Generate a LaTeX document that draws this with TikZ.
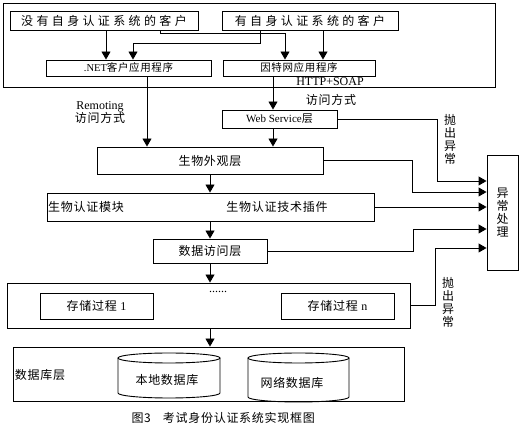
\documentclass[tikz,border=0pt]{standalone}
\usepackage{fontspec}
\setmainfont{Noto Sans CJK SC}
\newfontfamily\tnr{Liberation Serif}
\usetikzlibrary{arrows.meta}

\begin{document}
\begin{tikzpicture}[x=1pt,y=-1pt,
  box/.style={draw, line width=0.9pt, inner sep=0pt},
  arr/.style={-{Triangle[width=9pt,length=8pt]}, line width=0.9pt},
  every node/.style={font=\fontsize{12}{13}\selectfont\addfontfeatures{LetterSpace=6}}]

\useasboundingbox (0,0) rectangle (520,435);

% Client frame
\draw[line width=0.9pt] (3,3) rectangle (495,87);

% Clients and applications
\node[box, minimum width=188, minimum height=19] (noauth) at (104,20.5)
  {\addfontfeatures{LetterSpace=28}没有自身认证系统的客户};
\node[box, minimum width=176, minimum height=19] (hasauth) at (310,20.5)
  {\addfontfeatures{LetterSpace=28}有自身认证系统的客户};
\node[box, minimum width=165, minimum height=16] (netapp) at (128.5,68)
  {\fontsize{10.5}{12}\selectfont{\tnr .NET}客户应用程序};
\node[box, minimum width=152, minimum height=16] (webapp) at (299,68)
  {\fontsize{10.5}{12}\selectfont 因特网应用程序};

% Layers
\node[box, minimum width=115, minimum height=18] (ws) at (279.5,119)
  {\fontsize{11}{12}\selectfont{\tnr Web Service}层};
\node[box, minimum width=226, minimum height=27] (face) at (210,160.5) {生物外观层};
\node[box, minimum width=327, minimum height=28] (auth) at (210.5,207) {};
\node (authmod) at (86,207) {生物认证模块};
\node (plugin) at (277,207) {生物认证技术插件};
\node[box, minimum width=114, minimum height=24] (dal) at (210,251) {数据访问层};

% Stored procedures
\node[box, minimum width=403, minimum height=45] (sp) at (208.5,305.5) {};
\node[box, minimum width=113, minimum height=26] (sp1) at (96.5,306) {存储过程 {\tnr 1}};
\node[box, minimum width=113, minimum height=26] (spn) at (337.5,306) {存储过程 {\tnr n}};
\node (dots) at (218,292) {\tnr ......};

% Database layer
\node[box, minimum width=391, minimum height=54] (db) at (208.5,374) {};
\node (dblabel) at (40,375) {数据库层};
\draw[line width=0.9pt] (118,358) -- (118,393) arc[start angle=180, end angle=0, x radius=51, y radius=5] -- (220,358);
\draw[line width=0.9pt] (169,358) ellipse[x radius=51, y radius=5];
\node (localdb) at (167,380) {本地数据库};
\draw[line width=0.9pt] (248,358) -- (248,397) arc[start angle=180, end angle=0, x radius=50.5, y radius=5] -- (349,358);
\draw[line width=0.9pt] (298.5,358) ellipse[x radius=50.5, y radius=5];
\node (netdb) at (292,383) {网络数据库};

% Exception handling
\node[box, minimum width=31, minimum height=115, align=center] (exc) at (502.5,212.5)
  {异\\常\\处\\理};

% Bend points
\coordinate (k1) at (260,43);
\coordinate (k2) at (133,43);
\coordinate (k3) at (160,33);
\coordinate (k4) at (285,33);
\coordinate (x1) at (106,0);
\coordinate (x2) at (323,0);
\coordinate (x3) at (147,0);
\coordinate (x4) at (273,0);
\coordinate (e1) at (437,181);
\coordinate (e2) at (412,192);
\coordinate (e3) at (413,229);
\coordinate (e4) at (435,248);

% Client connectors
\draw[arr] (noauth.south -| x1) -- (netapp.north -| x1);
\draw[arr] (hasauth.south -| k1) -- (k1) -- (k2) -- (netapp.north -| k2);
\draw[arr] (noauth.south -| k3) -- (k3) -- (k4) -- (webapp.north -| k4);
\draw[arr] (hasauth.south -| x2) -- (webapp.north -| x2);

% Access paths
\draw[arr] (netapp.south -| x3) -- (face.north -| x3);
\draw[arr] (webapp.south -| x4) -- (ws.north -| x4);
\draw[arr] (ws.south -| x4) -- (face.north -| x4);
\node[align=center] (remoting) at (100,113) {\tnr Remoting\\访问方式};
\node (http) at (330,82) {\tnr HTTP+SOAP};
\node (httpway) at (331,100) {访问方式};

% Main chain
\draw[arr] (face.south) -- (auth.north -| face.south);
\draw[arr] (dal.north |- auth.south) -- (dal.north);
\draw[arr] (dal.south) -- (sp.north -| dal.south);
\draw[arr] (sp.south -| dal.south) -- (db.north -| dal.south);

% Exceptions
\draw[arr] (ws.east) -| (e1) -- (exc.west |- e1);
\draw[arr] (face.east) -| (e2) -- (exc.west |- e2);
\draw[arr] (auth.east) -- (exc.west |- auth.east);
\draw[arr] (dal.east) -| (e3) -- (exc.west |- e3);
\draw[arr] (sp.east) -| (e4) -- (exc.west |- e4);
\node[align=center] (throw1) at (450,139) {抛\\出\\异\\常};
\node[align=center] (throw2) at (448,302) {抛\\出\\异\\常};

% Caption
\node[anchor=west] (caption) at (128,418) {图3\hspace{12pt}考试身份认证系统实现框图};

\end{tikzpicture}
\end{document}
